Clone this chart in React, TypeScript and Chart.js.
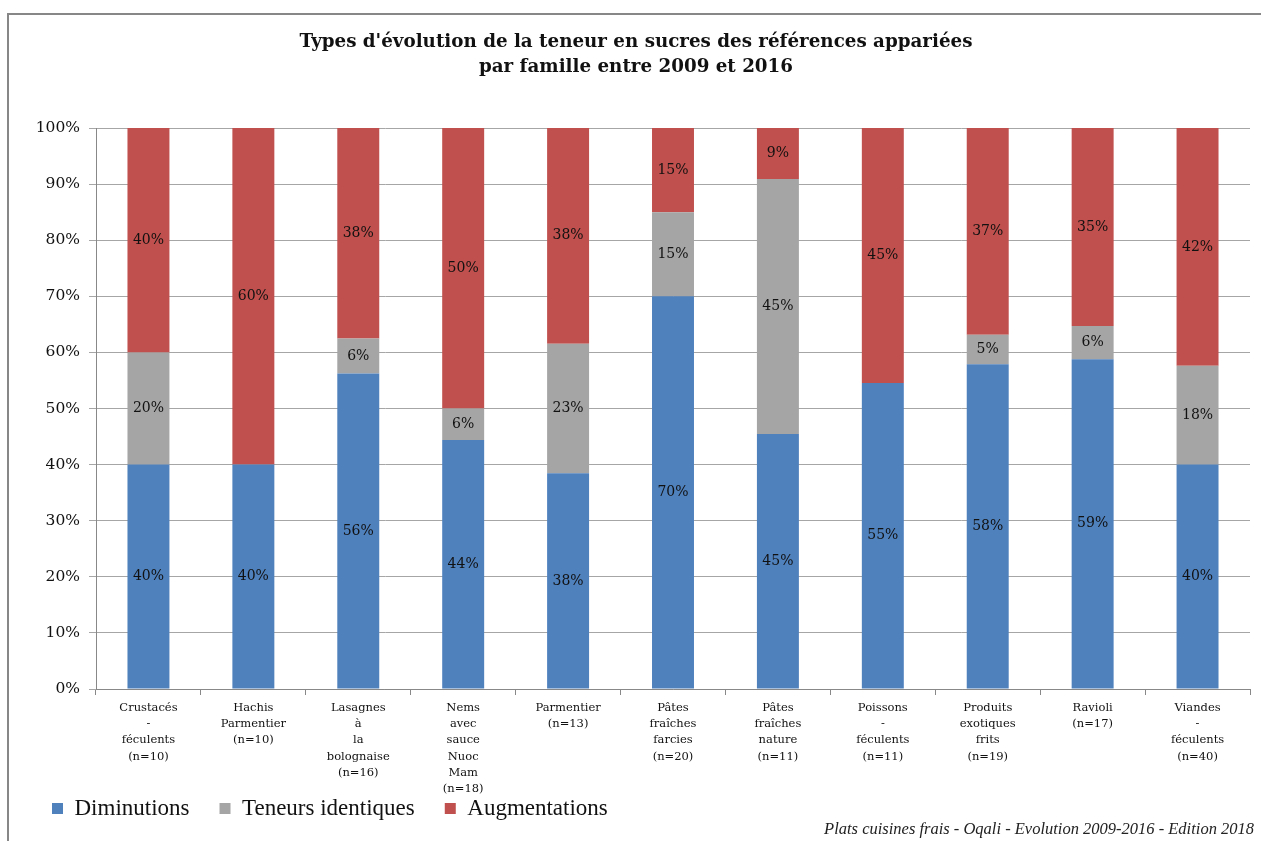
import React, { useEffect, useRef } from "react";
import { Chart, registerables } from "chart.js";

Chart.register(...registerables);

const categories: string[][] = [
  ["Crustacés", "-", "féculents", "(n=10)"],
  ["Hachis", "Parmentier", "(n=10)"],
  ["Lasagnes", "à", "la", "bolognaise", "(n=16)"],
  ["Nems", "avec", "sauce", "Nuoc", "Mam", "(n=18)"],
  ["Parmentier", "(n=13)"],
  ["Pâtes", "fraîches", "farcies", "(n=20)"],
  ["Pâtes", "fraîches", "nature", "(n=11)"],
  ["Poissons", "-", "féculents", "(n=11)"],
  ["Produits", "exotiques", "frits", "(n=19)"],
  ["Ravioli", "(n=17)"],
  ["Viandes", "-", "féculents", "(n=40)"],
];

const diminutions = [40, 40, 56.25, 44.4, 38.45, 70, 45.45, 54.55, 57.9, 58.8, 40];
const identiques = [20, 0, 6.25, 5.6, 23.1, 15, 45.45, 0, 5.25, 5.9, 17.6];
const augmentations = [40, 60, 37.5, 50, 38.45, 15, 9.1, 45.45, 36.85, 35.3, 42.4];

const seriesNames = ["Diminutions", "Teneurs identiques", "Augmentations"];
const seriesColors = ["#4f81bd", "#a5a5a5", "#c0504d"];

const titleLines = [
  "Types d'évolution de la teneur en sucres des références appariées",
  "par famille entre 2009 et 2016",
];
const sourceText = "Plats cuisines frais - Oqali - Evolution 2009-2016 - Edition 2018";

const W = 1261;
const H = 841;

const decorPlugin = {
  id: "decor",
  afterLayout(chart: any) {
    // let multi-line category labels overflow below the axis box (no clipping)
    if (chart.scales && chart.scales.x) chart.scales.x.bottom = chart.height;
  },
  beforeDraw(chart: any) {
    const ctx = chart.ctx;
    ctx.save();
    ctx.fillStyle = "#ffffff";
    ctx.fillRect(0, 0, chart.width, chart.height);
    ctx.strokeStyle = "#878787";
    ctx.lineWidth = 2;
    ctx.beginPath();
    ctx.moveTo(W, 14);
    ctx.lineTo(8, 14);
    ctx.lineTo(8, H);
    ctx.stroke();
    ctx.restore();
  },
  afterDraw(chart: any) {
    const ctx = chart.ctx;
    ctx.save();
    ctx.font = "italic 16.5px 'Liberation Serif'";
    ctx.fillStyle = "#222222";
    ctx.textAlign = "right";
    ctx.textBaseline = "middle";
    ctx.fillText(sourceText, 1254, 830);
    ctx.restore();
  },
};

const valueLabelPlugin = {
  id: "valueLabels",
  afterDatasetsDraw(chart: any) {
    const ctx = chart.ctx;
    ctx.save();
    ctx.font = "14px 'DejaVu Serif'";
    ctx.fillStyle = "#111111";
    ctx.textAlign = "center";
    ctx.textBaseline = "middle";
    chart.data.datasets.forEach((ds: any, i: number) => {
      const meta = chart.getDatasetMeta(i);
      meta.data.forEach((bar: any, j: number) => {
        const v = ds.data[j];
        if (!v) return;
        const p = bar.getProps(["x", "y", "base"], true);
        ctx.fillText(Math.round(v) + "%", p.x, (p.y + p.base) / 2);
      });
    });
    ctx.restore();
  },
};

export default function App() {
  const ref = useRef<HTMLCanvasElement | null>(null);

  useEffect(() => {
    if (!ref.current) return;
    const seriesData = [diminutions, identiques, augmentations];
    const chart = new Chart(ref.current, {
      type: "bar",
      data: {
        labels: categories,
        datasets: seriesData.map((d, i) => ({
          label: seriesNames[i],
          data: d,
          backgroundColor: seriesColors[i],
          borderWidth: 0,
          categoryPercentage: 1,
          barPercentage: 0.4,
        })),
      },
      options: {
        responsive: false,
        animation: false,
        devicePixelRatio: 1,
        layout: { padding: { top: 30, left: 22, right: 11, bottom: 11 } },
        plugins: {
          title: {
            display: true,
            text: titleLines,
            color: "#111111",
            font: { family: "'DejaVu Serif'", size: 18.3, weight: "bold", lineHeight: "25px" },
            padding: { top: 0, bottom: 48 },
          },
          legend: {
            display: true,
            position: "bottom",
            align: "start",
            labels: {
              boxWidth: 11,
              boxHeight: 11,
              padding: 30,
              color: "#111111",
              font: { family: "'Liberation Serif'", size: 23 },
            },
          },
          tooltip: { enabled: false },
        },
        scales: {
          x: {
            stacked: true,
            afterFit: (scale: any) => {
              scale.height = 78;
            },
            grid: {
              display: true,
              drawOnChartArea: false,
              drawTicks: true,
              tickLength: 6,
              offset: true,
              color: "#888888",
            },
            border: { display: true, color: "#888888", width: 1 },
            ticks: {
              autoSkip: false,
              maxRotation: 0,
              minRotation: 0,
              padding: 5,
              color: "#111111",
              font: { family: "'DejaVu Serif'", size: 11.5, lineHeight: "16.2px" },
            },
          },
          y: {
            stacked: true,
            min: 0,
            max: 100,
            afterFit: (scale: any) => {
              scale.width = 74;
            },
            grid: {
              display: true,
              drawTicks: true,
              tickLength: 7,
              color: "#a6a6a6",
            },
            border: { display: true, color: "#888888", width: 1 },
            ticks: {
              stepSize: 10,
              padding: 9,
              color: "#111111",
              font: { family: "'DejaVu Serif'", size: 15.5 },
              callback: (v: any) => v + "%",
            },
          },
        },
      },
      plugins: [decorPlugin, valueLabelPlugin],
    } as any);
    return () => chart.destroy();
  }, []);

  return (
    <div style={{ position: "fixed", left: 0, top: 0, width: W, height: H, background: "#fff" }}>
      <canvas ref={ref} width={W} height={H} style={{ display: "block" }} />
    </div>
  );
}
